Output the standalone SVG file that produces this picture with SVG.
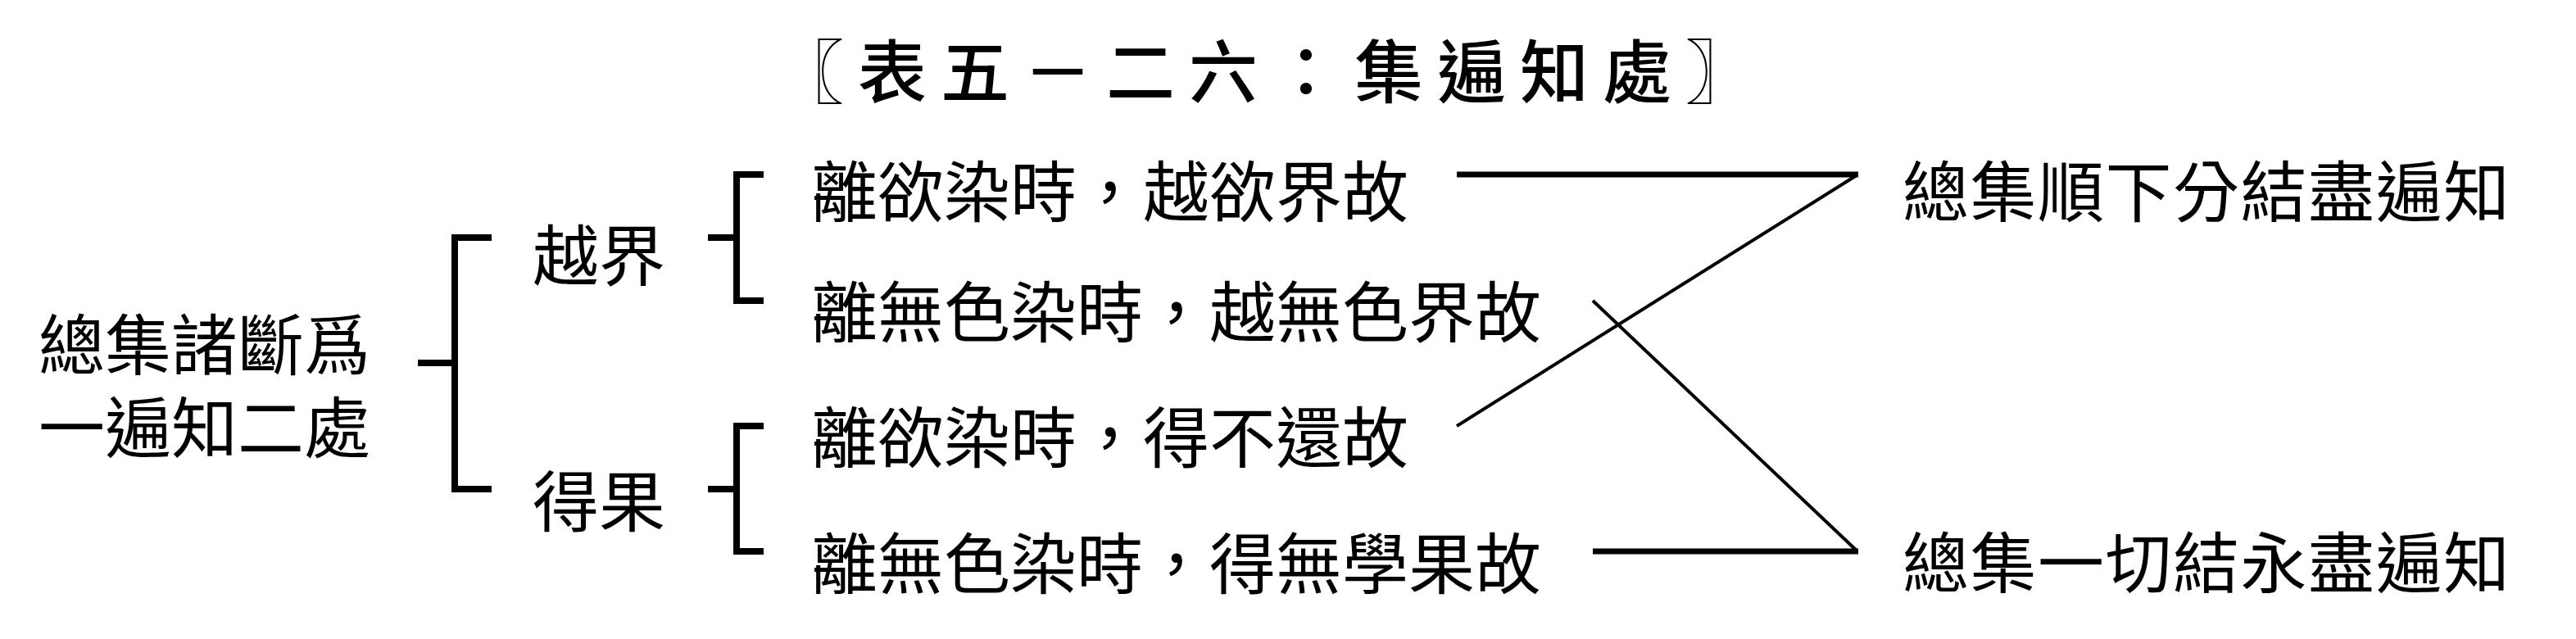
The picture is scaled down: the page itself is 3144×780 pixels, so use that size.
<svg xmlns="http://www.w3.org/2000/svg" width="3144" height="780" viewBox="0 0 3144 780">
<style>
text{font-family:"Noto Sans CJK TC","Noto Sans CJK SC",sans-serif;fill:#000;font-size:81px}
.title{font-size:84px;font-weight:500;letter-spacing:17px}
.wide{letter-spacing:1.5px}
.br{fill:none;stroke:#000;stroke-width:8;stroke-linejoin:miter;stroke-linecap:butt}
.h{stroke:#000;stroke-width:7;fill:none}
.d{stroke:#000;stroke-width:4;fill:none}
</style>
<rect width="3144" height="780" fill="#fff"/>
<g id="title"><text class="title" x="946" y="119">〖表五－二六：集遍知處〗</text></g>
<g id="root"><text x="47" y="451">總集諸斷爲<tspan x="47" y="552">一遍知二處</tspan></text></g>
<g id="n-yuejie"><text x="650" y="342">越界</text></g>
<g id="n-deguo"><text x="650" y="642">得果</text></g>
<g id="leaf1"><text x="990" y="264">離欲染時，越欲界故</text></g>
<g id="leaf2"><text x="990" y="411">離無色染時，越無色界故</text></g>
<g id="leaf3"><text x="990" y="564">離欲染時，得不還故</text></g>
<g id="leaf4"><text x="990" y="718">離無色染時，得無學果故</text></g>
<g id="res1"><text class="wide" x="2322" y="264">總集順下分結盡遍知</text></g>
<g id="res2"><text class="wide" x="2322" y="717">總集一切結永盡遍知</text></g>
<g id="connectors">
<path class="br" d="M600,290 H555 V597 H600 M510,443 H555"/>
<path class="br" d="M932,213 H899 V367 H932 M864,290 H899"/>
<path class="br" d="M932,520 H899 V673 H932 M864,597 H899"/>
<path class="h" d="M1778,213 H2268"/>
<path class="d" d="M2266,214 L1778,520"/>
<path class="d" d="M1944,367 L2266,672"/>
<path class="h" d="M1944,673 H2268"/>
</g>
</svg>
